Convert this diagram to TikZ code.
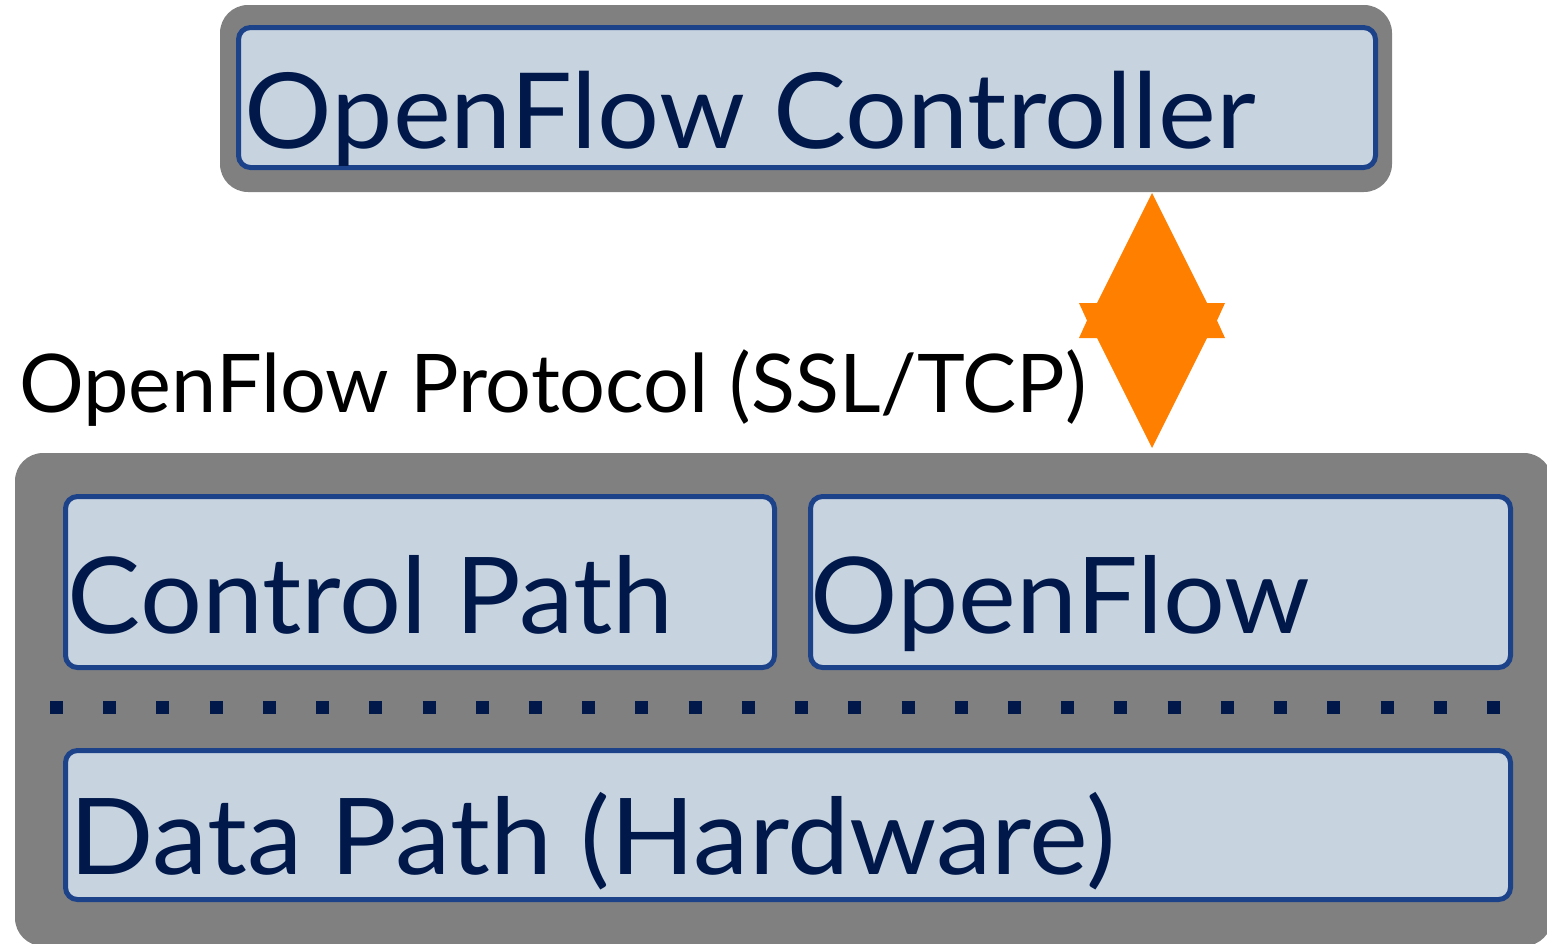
\documentclass[tikz,border=0pt]{standalone}
\usepackage{fontspec}
\setmainfont{Lato}
\usetikzlibrary{calc,fit}

\definecolor{shellgray}{HTML}{808080}
\definecolor{layerfill}{HTML}{C8D3E0}
\definecolor{layerline}{HTML}{1C428A}
\definecolor{layerink}{HTML}{00194A}
\definecolor{flowarrow}{HTML}{FF8000}

\tikzset{
  shell/.style={fill=shellgray, rounded corners=14pt, inner sep=0pt},
  layer/.style={draw=layerline, line width=2.5pt, fill=layerfill, rounded corners=6pt, inner sep=0pt},
  layertext/.style={anchor=base west, inner sep=0pt, text=layerink, font=\fontsize{53}{60}\selectfont},
}

\begin{document}
\begin{tikzpicture}[x=0.5pt, y=-0.5pt]
  \useasboundingbox (0,0) rectangle (1547,943);
  % controller
  \node[shell, fit={(220,5) (1392,192)}] (ctrlshell) {};
  \node[layer, fit={(238.5,27.5) (1375.5,167.5)}] (ctrl) {};
  \node[layertext, font=\fontsize{52.5}{60}\selectfont] (ctrltext) at ($(ctrl.south west)+(8.5,-22)$) {\scalebox{1.043}[1]{OpenFlow Controller}};
  % switch
  \node[shell, fit={(15,453) (1552,946)}] (switchshell) {};
  \node[layer, fit={(65.5,496.5) (774.5,667.5)}] (ctrlpath) {};
  \node[layer, fit={(810.5,496.5) (1510.5,667.5)}] (ofagent) {};
  \node[layer, fit={(65.5,750.5) (1510.5,899.5)}] (datapath) {};
  \node[layertext] (ctrlpathtext) at ($(ctrlpath.south west)+(4.5,-37)$) {\scalebox{1.033}[1]{Control Path}};
  \node[layertext] (ofagenttext) at ($(ofagent.south west)+(2.5,-37)$) {\scalebox{1.031}[1]{OpenFlow}};
  \node[layertext] (datapathtext) at ($(datapath.south west)+(6,-28)$) {\scalebox{1.049}[1]{Data Path (Hardware)}};
  \draw[layerink, line width=6.5pt, dash pattern=on 6.5pt off 20.11pt] (50,707) -- (1500,707);
  % protocol
  \coordinate (tipup) at (1152,193);
  \coordinate (tipdown) at (1152,448);
  \fill[flowarrow] (tipup) -- ++(55,110) -- ++(18,0) -- ++(-8,17.5) -- ++(8,17.5) -- ++(-18,0)
    -- (tipdown) -- ++(-55,-110) -- ++(-18,0) -- ++(8,-17.5) -- ++(-8,-17.5) -- ++(18,0) -- cycle;
  \node[anchor=base west, inner sep=0pt, font=\fontsize{40.5}{48}\selectfont] (protocol) at (19,412) {OpenFlow Protocol (SSL/TCP)};
\end{tikzpicture}
\end{document}
